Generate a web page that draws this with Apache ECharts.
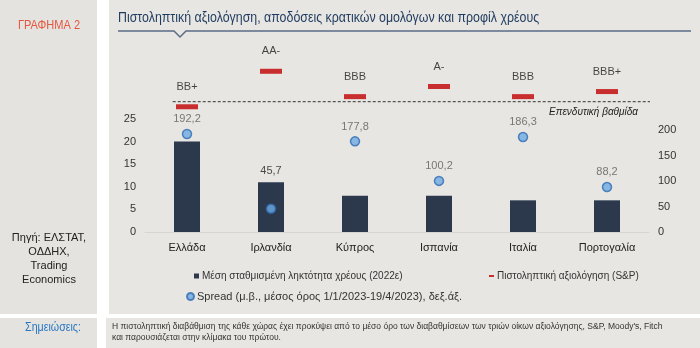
<!DOCTYPE html>
<html><head><meta charset="utf-8">
<script src="https://cdn.jsdelivr.net/npm/echarts@6/dist/echarts.min.js"></script>
<style>html,body{margin:0;padding:0;background:#fff}#c{width:700px;height:348px}</style>
</head><body><div id="c"></div>
<script>
const categories = ['Ελλάδα', 'Ιρλανδία', 'Κύπρος', 'Ισπανία', 'Ιταλία', 'Πορτογαλία'];
const maturity = [20, 11, 8, 8, 7, 7];
const spread = [192.2, 45.7, 177.8, 100.2, 186.3, 88.2];
const spreadLabels = ['192,2', '45,7', '177,8', '100,2', '186,3', '88,2'];
const ratings = ['BB+', 'AA-', 'BBB', 'A-', 'BBB', 'BBB+'];
const ratingScale = ['BB+', 'BBB-', 'BBB', 'BBB+', 'A-', 'A', 'A+', 'AA-', 'AA', 'AA+', 'AAA'];
const investmentGrade = 'BBB-';
const leftTicks = [0, 5, 10, 15, 20, 25];
const rightTicks = [0, 50, 100, 150, 200];

const SANS = "'Liberation Sans', Arial, sans-serif";
const leftMax = leftTicks[leftTicks.length - 1];
const rightMax = rightTicks[rightTicks.length - 1];
const ratingIdx = r => ratingScale.indexOf(r);
const igLevel = ratingIdx(investmentGrade);

const chart = echarts.init(document.getElementById('c'), null, {renderer: 'canvas'});
const option = {
  backgroundColor: '#ffffff',
  animation: false,
  textStyle: {fontFamily: SANS},
  graphic: [
    {type: 'rect', shape: {x: 0, y: 0, width: 97, height: 314}, style: {fill: '#e4e3df'}, z: -5},
    {type: 'rect', shape: {x: 109, y: 0, width: 591, height: 314}, style: {fill: '#e7e6e2'}, z: -5},
    {type: 'rect', shape: {x: 0, y: 318, width: 97, height: 30}, style: {fill: '#e4e3df'}, z: -5},
    {type: 'rect', shape: {x: 106, y: 318, width: 594, height: 30}, style: {fill: '#e7e6e2'}, z: -5},
    {type: 'text', x: 49, y: 26, scaleX: 0.92, style: {text: 'ΓΡΑΦΗΜΑ 2', fill: '#e4563f', font: "12px " + SANS, align: 'center', verticalAlign: 'middle'}},
    {type: 'text', x: 118, y: 18, scaleX: 0.885, style: {text: 'Πιστοληπτική αξιολόγηση, αποδόσεις κρατικών ομολόγων και προφίλ χρέους', fill: '#1f3a5f', font: "14px " + SANS, verticalAlign: 'middle'}},
    {type: 'polyline', shape: {points: [[118, 31], [174, 31], [180, 37], [186, 31], [691, 31]]}, style: {stroke: '#5b6c86', lineWidth: 1.5, fill: null}},
    {type: 'text', x: 49, y: 231, style: {text: 'Πηγή: ΕΛΣΤΑΤ,\nΟΔΔΗΧ,\nTrading\nEconomics', fill: '#222', font: "11px " + SANS, align: 'center', verticalAlign: 'top', lineHeight: 14}},
    {type: 'text', x: 53, y: 327, scaleX: 0.82, style: {text: 'Σημειώσεις:', fill: '#2a78c4', font: "500 13px " + SANS, align: 'center', verticalAlign: 'middle'}},
    {type: 'text', x: 112, y: 321, style: {text: 'Η πιστοληπτική διαβάθμιση της κάθε χώρας έχει προκύψει από το μέσο όρο των διαβαθμίσεων των τριών οίκων αξιολόγησης, S&P, Moody\'s, Fitch\nκαι παρουσιάζεται στην κλίμακα του πρώτου.', fill: '#333', font: "8.5px " + SANS, verticalAlign: 'top', lineHeight: 11}}
  ],
  grid: {left: 145, right: 51, top: 51, bottom: 116},
  legend: [
    {left: 189, top: 266, itemWidth: 5, itemHeight: 5, icon: 'rect', data: ['Μέση σταθμισμένη ληκτότητα χρέους (2022ε)'], textStyle: {fontSize: 10, color: '#333', padding: [0, 0, 0, -2]}, selectedMode: false},
    {left: 484, top: 266, itemWidth: 5, itemHeight: 2, icon: 'rect', data: ['Πιστοληπτική αξιολόγηση (S&P)'], textStyle: {fontSize: 10, color: '#333', padding: [0, 0, 0, -2]}, selectedMode: false},
    {left: 181, top: 286, itemWidth: 7, itemHeight: 7, icon: 'circle', data: ['Spread (μ.β., μέσος όρος 1/1/2023-19/4/2023), δεξ.άξ.'], textStyle: {fontSize: 11, color: '#333', padding: [0, 0, 0, -2]}, selectedMode: false}
  ],
  xAxis: [
    {type: 'category', data: categories, axisTick: {show: false},
     axisLine: {lineStyle: {color: '#d6d5d1'}},
     axisLabel: {color: '#222', fontSize: 11, margin: 10}},
    {type: 'value', min: -0.5, max: categories.length - 0.5, show: false}
  ],
  yAxis: [
    {type: 'value', min: 0, max: 40, interval: 5, position: 'left', splitLine: {show: false},
     axisLine: {show: false}, axisTick: {show: false},
     axisLabel: {color: '#333', fontSize: 11, margin: 9, formatter: v => v <= leftMax ? String(v) : ''}},
    {type: 'value', min: 0, max: 355, interval: 50, position: 'right', splitLine: {show: false},
     axisLine: {show: false}, axisTick: {show: false},
     axisLabel: {color: '#333', fontSize: 11, margin: 9, formatter: v => v <= rightMax ? String(v) : ''}},
    {type: 'value', min: -24.7, max: 11, show: false}
  ],
  series: [
    {name: 'Μέση σταθμισμένη ληκτότητα χρέους (2022ε)', type: 'bar', data: maturity, barWidth: 26,
     itemStyle: {color: '#2c394d'}, z: 2},
    {name: 'Spread (μ.β., μέσος όρος 1/1/2023-19/4/2023), δεξ.άξ.', type: 'scatter', yAxisIndex: 1,
     data: spread.map((v, i) => i === 1 ? {value: v, label: {offset: [0, -23], color: '#222'}} : v),
     symbol: 'circle', symbolSize: 9,
     itemStyle: {color: '#71aae2', borderColor: '#2d6cb3', borderWidth: 1.5},
     label: {show: true, position: 'top', distance: 4, color: '#5a5a5a', fontSize: 11, formatter: p => spreadLabels[p.dataIndex]}, z: 4},
    {name: 'Πιστοληπτική αξιολόγηση (S&P)', type: 'scatter', yAxisIndex: 2,
     data: ratings.map(r => ratingIdx(r)), symbol: 'rect', symbolSize: [22, 5],
     itemStyle: {color: '#c00000'},
     label: {show: true, position: 'top', distance: 12, color: '#1a1a1a', fontSize: 11, formatter: p => ratings[p.dataIndex]}, z: 4},
    {name: 'threshold', type: 'line', xAxisIndex: 1, yAxisIndex: 2, silent: true, clip: false,
     data: [[-0.17, igLevel], [5.56, igLevel]], symbol: 'none',
     lineStyle: {type: [3, 2], color: '#333', width: 1},
     endLabel: {show: true, formatter: 'Επενδυτική βαθμίδα', fontStyle: 'italic', fontSize: 10, color: '#222',
       align: 'right', verticalAlign: 'top', distance: 0, offset: [-12, 6]}, z: 3}
  ]
};
chart.setOption(option);
</script></body></html>
